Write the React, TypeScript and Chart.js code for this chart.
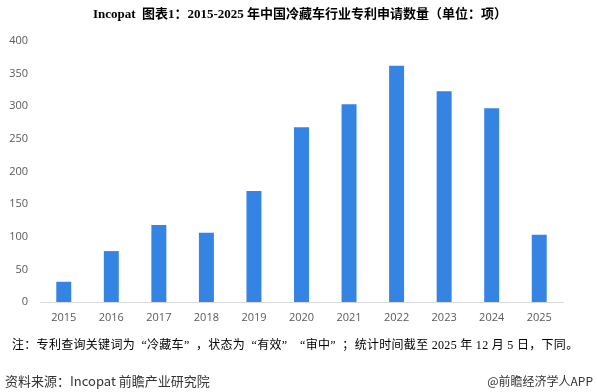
import React, { useEffect, useRef } from "react";
import { Chart, registerables } from "chart.js";

Chart.register(...registerables);

const years = ["2015", "2016", "2017", "2018", "2019", "2020", "2021", "2022", "2023", "2024", "2025"];
const patents = [31, 78, 118, 106, 170, 268, 303, 362, 323, 297, 103];
const yTicks = [0, 50, 100, 150, 200, 250, 300, 350, 400];

const titleText = "Incopat  图表1：2015-2025 年中国冷藏车行业专利申请数量（单位：项）";
const noteText = "注：专利查询关键词为“冷藏车”，状态为“有效”“审中”；统计时间截至 2025 年 12 月 5 日，下同。";
const sourceText = "资料来源：Incopat 前瞻产业研究院";
const brandText = "@前瞻经济学人APP";

function fullWidthQuotes(text: string) {
  const parts: React.ReactNode[] = [];
  let buf = "";
  let k = 0;
  for (const ch of text) {
    if (ch === "“" || ch === "”") {
      if (buf) parts.push(<span key={k++}>{buf}</span>);
      buf = "";
      parts.push(
        <span
          key={k++}
          style={{ display: "inline-block", width: "1em", textAlign: ch === "“" ? "right" : "left" }}
        >
          {ch}
        </span>
      );
    } else {
      buf += ch;
    }
  }
  if (buf) parts.push(<span key={k++}>{buf}</span>);
  return parts;
}

export default function App() {
  const canvasRef = useRef<HTMLCanvasElement | null>(null);

  useEffect(() => {
    document.body.style.margin = "0";
    const ctx = canvasRef.current!;
    const chart = new Chart(ctx, {
      type: "bar",
      data: {
        labels: years,
        datasets: [
          {
            data: patents,
            backgroundColor: "#3584e4",
            barPercentage: 0.63,
            categoryPercentage: 0.5,
          },
        ],
      },
      options: {
        animation: false,
        responsive: false,
        maintainAspectRatio: false,
        layout: { padding: { left: 0, right: 34, top: 41, bottom: 60 } },
        plugins: { legend: { display: false }, tooltip: { enabled: false }, title: { display: false } },
        scales: {
          x: {
            grid: { display: false, drawTicks: false },
            border: { display: true, color: "#d9d9d9", width: 1 },
            ticks: {
              color: "#595959",
              font: { family: "'Open Sans', 'Liberation Sans', sans-serif", size: 11 },
              padding: 9,
              maxRotation: 0,
            },
            afterFit: (s: any) => {
              s.height = 30;
            },
          },
          y: {
            min: 0,
            max: 400,
            afterBuildTicks: (s: any) => {
              s.ticks = yTicks.map((v) => ({ value: v }));
            },
            grid: { display: false, drawTicks: false },
            border: { display: false },
            ticks: {
              color: "#595959",
              font: { family: "'Open Sans', 'Liberation Sans', sans-serif", size: 11 },
              padding: 12,
            },
            afterFit: (s: any) => {
              s.width = 40;
            },
          },
        },
      },
    });
    return () => chart.destroy();
  }, []);

  return (
    <div style={{ position: "fixed", left: 0, top: 0, width: 597, height: 392, background: "#fff", overflow: "hidden" }}>
      <canvas ref={canvasRef} width={597} height={392} style={{ position: "absolute", left: 0, top: 0 }} />
      <div
        style={{
          position: "absolute",
          left: 0,
          width: 600,
          top: 5,
          textAlign: "center",
          fontFamily: "'Liberation Serif', 'Noto Sans CJK SC', serif",
          fontWeight: "bold",
          fontSize: 13,
          color: "#000",
          whiteSpace: "pre",
          lineHeight: "18px",
        }}
      >
        {titleText}
      </div>
      <div
        style={{
          position: "absolute",
          left: 12,
          top: 337,
          fontFamily: "'Liberation Serif', 'Noto Sans CJK SC', serif",
          fontSize: 12,
          letterSpacing: "0.3px",
          color: "#000",
          whiteSpace: "pre",
          lineHeight: "16px",
        }}
      >
        {fullWidthQuotes(noteText)}
      </div>
      <div
        style={{
          position: "absolute",
          left: 5,
          top: 373,
          fontFamily: "'Noto Sans CJK SC', 'Noto Sans', sans-serif",
          fontSize: 13,
          color: "#333",
          whiteSpace: "pre",
          lineHeight: "16px",
        }}
      >
        {sourceText}
      </div>
      <div
        style={{
          position: "absolute",
          right: 4,
          top: 373,
          fontFamily: "'Noto Sans CJK SC', 'Noto Sans', sans-serif",
          fontSize: 12,
          color: "#333",
          whiteSpace: "pre",
          lineHeight: "16px",
        }}
      >
        {brandText}
      </div>
    </div>
  );
}
